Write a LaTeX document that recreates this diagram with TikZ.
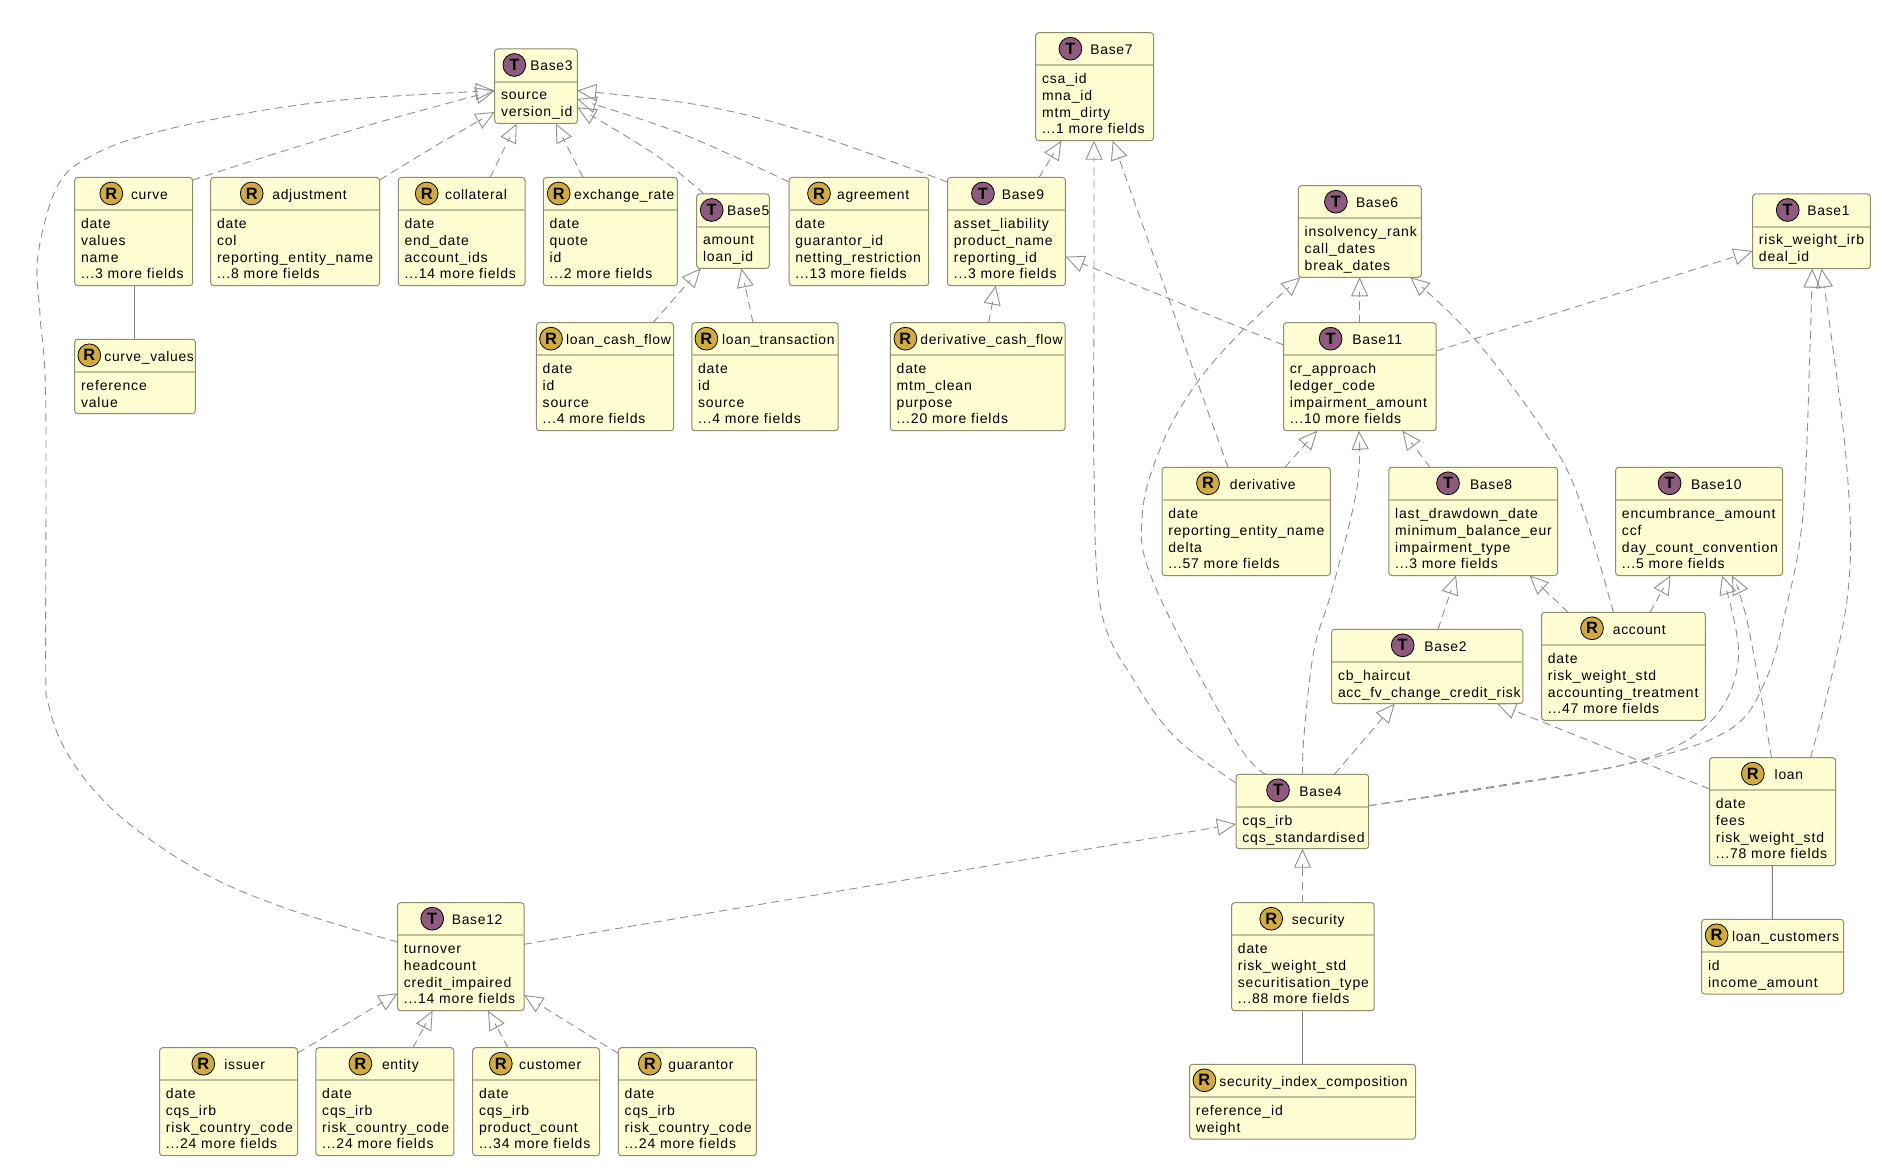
\documentclass[tikz,border=0pt]{standalone}
\usepackage{fontspec}
\setmainfont[LetterSpace=6]{Liberation Sans}
\newfontfamily\titlefont[LetterSpace=5]{Liberation Sans}
\usetikzlibrary{calc,arrows.meta}
\catcode`\_=12
\definecolor{boxfill}{HTML}{FFFED2}
\definecolor{boxline}{HTML}{8C8C70}
\definecolor{boxdiv}{HTML}{C2C09C}
\definecolor{iconT}{HTML}{8E5A7E}
\definecolor{iconR}{HTML}{D2AB3E}
\definecolor{depline}{HTML}{8F8F8F}
\definecolor{assocline}{HTML}{808080}
\tikzset{
  classbox/.style={draw=boxline,fill=boxfill,line width=0.5pt,rounded corners=1.5pt,inner sep=0pt,outer sep=0pt,anchor=north west},
  divider/.style={draw=boxdiv,line width=1pt},
  icon/.style={circle,draw=black,line width=0.4pt,inner sep=0pt,minimum size=11.4pt,font=\fontsize{8.2}{9}\selectfont\bfseries},
  titletext/.style={inner sep=0pt,anchor=base west,text=black,font=\titlefont\fontsize{6.95}{8}\selectfont},
  fieldtext/.style={inner sep=0pt,anchor=base west,text=black,font=\fontsize{7}{8}\selectfont},
  dep/.style={draw=depline,line width=0.45pt,dash pattern=on 4pt off 2.6pt,-{Triangle[open,length=9.5pt,width=8.5pt,line width=0.45pt]}},
  assoc/.style={draw=assocline,line width=0.5pt},
}
\newcommand\dotsmark{...}
\def\umlbox#1,#2,#3,#4,#5,#6\relax{\def\xa{#1}\def\ya{#2}\def\xb{#3}\def\yb{#4}\def\xc{#5}\def\xn{#6}}
\newcommand\umlclass[5]{%
  \umlbox#3\relax
  \expandafter\xdef\csname x@#1\endcsname{\xa}%
  \expandafter\xdef\csname y@#1\endcsname{\ya}%
  \node[classbox,minimum width={(\xb-\xa)*0.5pt},minimum height={(\yb-\ya)*0.5pt}] (#1) at (\xa,\ya) {};
  \draw[divider] ($(#1.north west)+(0.5,32.7)$) -- ($(#1.north east)+(-0.5,32.7)$);
  \node[icon,fill=icon#2] (#1-icon) at (\xc,{\ya+16}) {#2};
  \node[titletext] (#1-title) at (\xn,{\ya+22}) {#4};
  \foreach \f [count=\i] in {#5} {
    \node[fieldtext] (#1-f\i) at ({\xa+5.9},{\ya+51+17*(\i-1)-(\i==4)}) {\f};
  }
}
\newcommand\dep[7]{%
  \coordinate (#1-to-#4-a) at ($(#1.north west)+({#2-\csname x@#1\endcsname},{#3-\csname y@#1\endcsname})$);
  \coordinate (#1-to-#4-b) at ($(#4.north west)+({#5-\csname x@#4\endcsname},{#6-\csname y@#4\endcsname})$);
  \draw[dep] plot[smooth,tension=0.6] coordinates {(#1-to-#4-a) #7 (#1-to-#4-b)};
}
\newcommand\assocline[6]{%
  \coordinate (#1-with-#4-a) at ($(#1.north west)+({#2-\csname x@#1\endcsname},{#3-\csname y@#1\endcsname})$);
  \coordinate (#1-with-#4-b) at ($(#4.north west)+({#5-\csname x@#4\endcsname},{#6-\csname y@#4\endcsname})$);
  \draw[assoc] (#1-with-#4-a) -- (#1-with-#4-b);
}
\begin{document}
\begin{tikzpicture}[x=0.5pt,y=-0.5pt]
\useasboundingbox[fill=white] (0,0) rectangle (1882,1170);

\umlclass{base3}{T}{494.7,49,577.3,123.5,514.3,530}{Base3}{source,version_id}
\umlclass{base7}{T}{1035.7,32.7,1153.5,140.7,1070.4,1090}{Base7}{csa_id,mna_id,mtm_dirty,\dotsmark 1 more fields}
\umlclass{curve}{R}{74.7,177.5,192.7,285.7,111.3,130.7}{curve}{date,values,name,\dotsmark 3 more fields}
\umlclass{adjustment}{R}{210.7,177.5,379.7,285.7,251.7,272}{adjustment}{date,col,reporting_entity_name,\dotsmark 8 more fields}
\umlclass{collateral}{R}{398.3,177.5,525,285.7,426.7,444.7}{collateral}{date,end_date,account_ids,\dotsmark 14 more fields}
\umlclass{exchangerate}{R}{543.3,177.5,677.3,285.7,558.7,573.7}{exchange_rate}{date,quote,id,\dotsmark 2 more fields}
\umlclass{base5}{T}{696.7,194,769.3,268.4,711.7,726.7}{Base5}{amount,loan_id}
\umlclass{agreement}{R}{789,177.5,928.7,285.7,819,836.7}{agreement}{date,guarantor_id,netting_restriction,\dotsmark 13 more fields}
\umlclass{base9}{T}{947.5,177.5,1065.4,285.7,982.9,1001.4}{Base9}{asset_liability,product_name,reporting_id,\dotsmark 3 more fields}
\umlclass{curvevalues}{R}{74.7,339.3,195.3,413.7,89.3,104}{curve_values}{reference,value}
\umlclass{loancashflow}{R}{536.4,322.7,673.6,430.7,551,565.7}{loan_cash_flow}{date,id,source,\dotsmark 4 more fields}
\umlclass{loantransaction}{R}{691.8,322.7,838.2,430.7,706.4,721.8}{loan_transaction}{date,id,source,\dotsmark 4 more fields}
\umlclass{derivativecashflow}{R}{890.4,322.7,1065,430.7,905.4,920}{derivative_cash_flow}{date,mtm_clean,purpose,\dotsmark 20 more fields}
\umlclass{base6}{T}{1298.4,185.7,1421.3,277.3,1335.9,1355.6}{Base6}{insolvency_rank,call_dates,break_dates}
\umlclass{base1}{T}{1752.6,194,1870.3,268.7,1787.7,1807}{Base1}{risk_weight_irb,deal_id}
\umlclass{base11}{T}{1283.5,322.7,1436.2,430.7,1330.6,1352}{Base11}{cr_approach,ledger_code,impairment_amount,\dotsmark 10 more fields}
\umlclass{derivative}{R}{1162,467.3,1330.4,575.5,1208,1229.5}{derivative}{date,reporting_entity_name,delta,\dotsmark 57 more fields}
\umlclass{base8}{T}{1388.8,467.3,1557.6,575.5,1448,1469.6}{Base8}{last_drawdown_date,minimum_balance_eur,impairment_type,\dotsmark 3 more fields}
\umlclass{base10}{T}{1615.6,467.3,1782.6,575.5,1669.6,1690.6}{Base10}{encumbrance_amount,ccf,day_count_convention,\dotsmark 5 more fields}
\umlclass{base2}{T}{1331.7,629.3,1522.8,703.7,1402.7,1424}{Base2}{cb_haircut,{\titlefont acc_fv_change_credit_risk}}
\umlclass{account}{R}{1541.5,612.3,1705.4,720.3,1592,1612.5}{account}{date,risk_weight_std,accounting_treatment,\dotsmark 47 more fields}
\umlclass{base4}{T}{1236,774.3,1368.6,848.7,1278,1299}{Base4}{cqs_irb,cqs_standardised}
\umlclass{loan}{R}{1709.5,757.7,1835.7,865.7,1752.8,1774.3}{loan}{date,fees,risk_weight_std,\dotsmark 78 more fields}
\umlclass{security}{R}{1231.6,902.7,1374.2,1010.7,1271.2,1291.4}{security}{date,risk_weight_std,securitisation_type,\dotsmark 88 more fields}
\umlclass{securityindex}{R}{1189.5,1064.3,1415.5,1139,1204.4,1219}{security_index_composition}{reference_id,weight}
\umlclass{loancustomers}{R}{1701.7,919.3,1843.5,994,1716.6,1731.6}{loan_customers}{id,income_amount}
\umlclass{base12}{T}{397.6,902.7,524,1010.7,432.2,451.4}{Base12}{turnover,headcount,credit_impaired,\dotsmark 14 more fields}
\umlclass{issuer}{R}{159.6,1047.7,297.6,1155.7,203.3,224}{issuer}{date,cqs_irb,risk_country_code,\dotsmark 24 more fields}
\umlclass{entity}{R}{315.9,1047.7,453.9,1155.7,360.4,381.6}{entity}{date,cqs_irb,risk_country_code,\dotsmark 24 more fields}
\umlclass{customer}{R}{472.7,1047.7,599.6,1155.7,500.8,518.8}{customer}{date,cqs_irb,product_count,\dotsmark 34 more fields}
\umlclass{guarantor}{R}{618.4,1047.7,756.3,1155.7,649.8,668}{guarantor}{date,cqs_irb,risk_country_code,\dotsmark 24 more fields}

% dependencies: source, target, intermediate points
\dep{base12}{397.6}{942}{base3}{494.7}{90.7}{(287,908.6) (207,875) (137,830) (93,789) (63,745.5) (48,702) (45.7,660) (45.7,400) (40,315) (38,255) (58,185) (93,155) (153,133) (253,112) (353,99)}
\dep{curve}{192.7}{180}{base3}{494.7}{90.7}{(287,150) (387,120)}
\dep{adjustment}{379.7}{180}{base3}{494.7}{112}{(437,145)}
\dep{collateral}{490}{177.5}{base3}{516.7}{123.5}{}
\dep{exchangerate}{583}{177.5}{base3}{555.7}{123.5}{}
\dep{base5}{704}{194}{base3}{577.3}{107.3}{(655.7,155)}
\dep{agreement}{789}{182}{base3}{577.3}{99.3}{(680.7,133.3)}
\dep{base9}{947.5}{182}{base3}{577.3}{90.7}{(805.7,131.7) (698.6,105)}
\dep{loancashflow}{653}{322.7}{base5}{700.7}{268.4}{}
\dep{loantransaction}{753}{322.7}{base5}{741.4}{268.4}{}
\dep{derivativecashflow}{988.6}{322.7}{base9}{995.7}{285.7}{}
\dep{base9}{1039}{177.5}{base7}{1061.4}{140.7}{}
\dep{base4}{1236}{783}{base7}{1094}{140.7}{(1176,738) (1135,682) (1101,610) (1094,470) (1094,300)}
\dep{derivative}{1228}{467.3}{base7}{1112.7}{140.7}{(1196.7,380) (1168,296.7)}
\dep{base11}{1283.5}{345}{base9}{1065.4}{256.7}{}
\dep{base11}{1359.6}{322.7}{base6}{1359.6}{277.3}{}
\dep{base4}{1266}{774.3}{base6}{1300.4}{277.3}{(1234,738) (1153.6,583) (1142.4,513) (1162.5,443) (1196.7,383) (1243,330)}
\dep{account}{1613.4}{612.3}{base6}{1410.4}{277.3}{(1582,507) (1551,442) (1475.7,340)}
\dep{base11}{1436.2}{351}{base1}{1752.6}{251}{}
\dep{base4}{1368.6}{805.7}{base1}{1812.3}{268.7}{(1502,785) (1632,763) (1729,730) (1767,677) (1788,600) (1800,540) (1806,465)}
\dep{loan}{1810.5}{757.7}{base1}{1821.6}{268.7}{(1847,600) (1846.5,463)}
\dep{base4}{1368.6}{805.7}{base10}{1722}{575.5}{(1502,786) (1641,760) (1712,720) (1738.5,656.7)}
\dep{loan}{1771.5}{757.7}{base10}{1732}{575.5}{(1748,625)}
\dep{account}{1650}{612.3}{base10}{1670.5}{575.5}{}
\dep{account}{1568}{612.3}{base8}{1529.5}{575.5}{}
\dep{derivative}{1285}{467.3}{base11}{1317.3}{430.7}{}
\dep{base4}{1302.5}{774.3}{base11}{1358.8}{430.7}{(1304,735) (1314,650) (1332,590) (1356.7,490)}
\dep{base8}{1430}{467.3}{base11}{1402.4}{430.7}{}
\dep{base2}{1438}{629.3}{base8}{1456}{575.5}{}
\dep{base4}{1334.5}{774.3}{base2}{1394.7}{703.7}{}
\dep{loan}{1709.5}{789}{base2}{1497}{703.7}{}
\dep{security}{1302.5}{902.7}{base4}{1302.5}{848.7}{}
\dep{base12}{524}{944.3}{base4}{1236}{824}{}
\dep{issuer}{297.6}{1053}{base12}{397.6}{993.3}{}
\dep{entity}{413}{1047.7}{base12}{432.6}{1010.7}{}
\dep{customer}{508}{1047.7}{base12}{488}{1010.7}{}
\dep{guarantor}{618.4}{1053.5}{base12}{524}{995}{}

% associations
\assocline{curve}{134}{285.7}{curvevalues}{134}{339.3}
\assocline{security}{1302.7}{1010.7}{securityindex}{1302.7}{1064.3}
\assocline{loan}{1772.4}{865.7}{loancustomers}{1772.4}{919.3}
\end{tikzpicture}
\end{document}
